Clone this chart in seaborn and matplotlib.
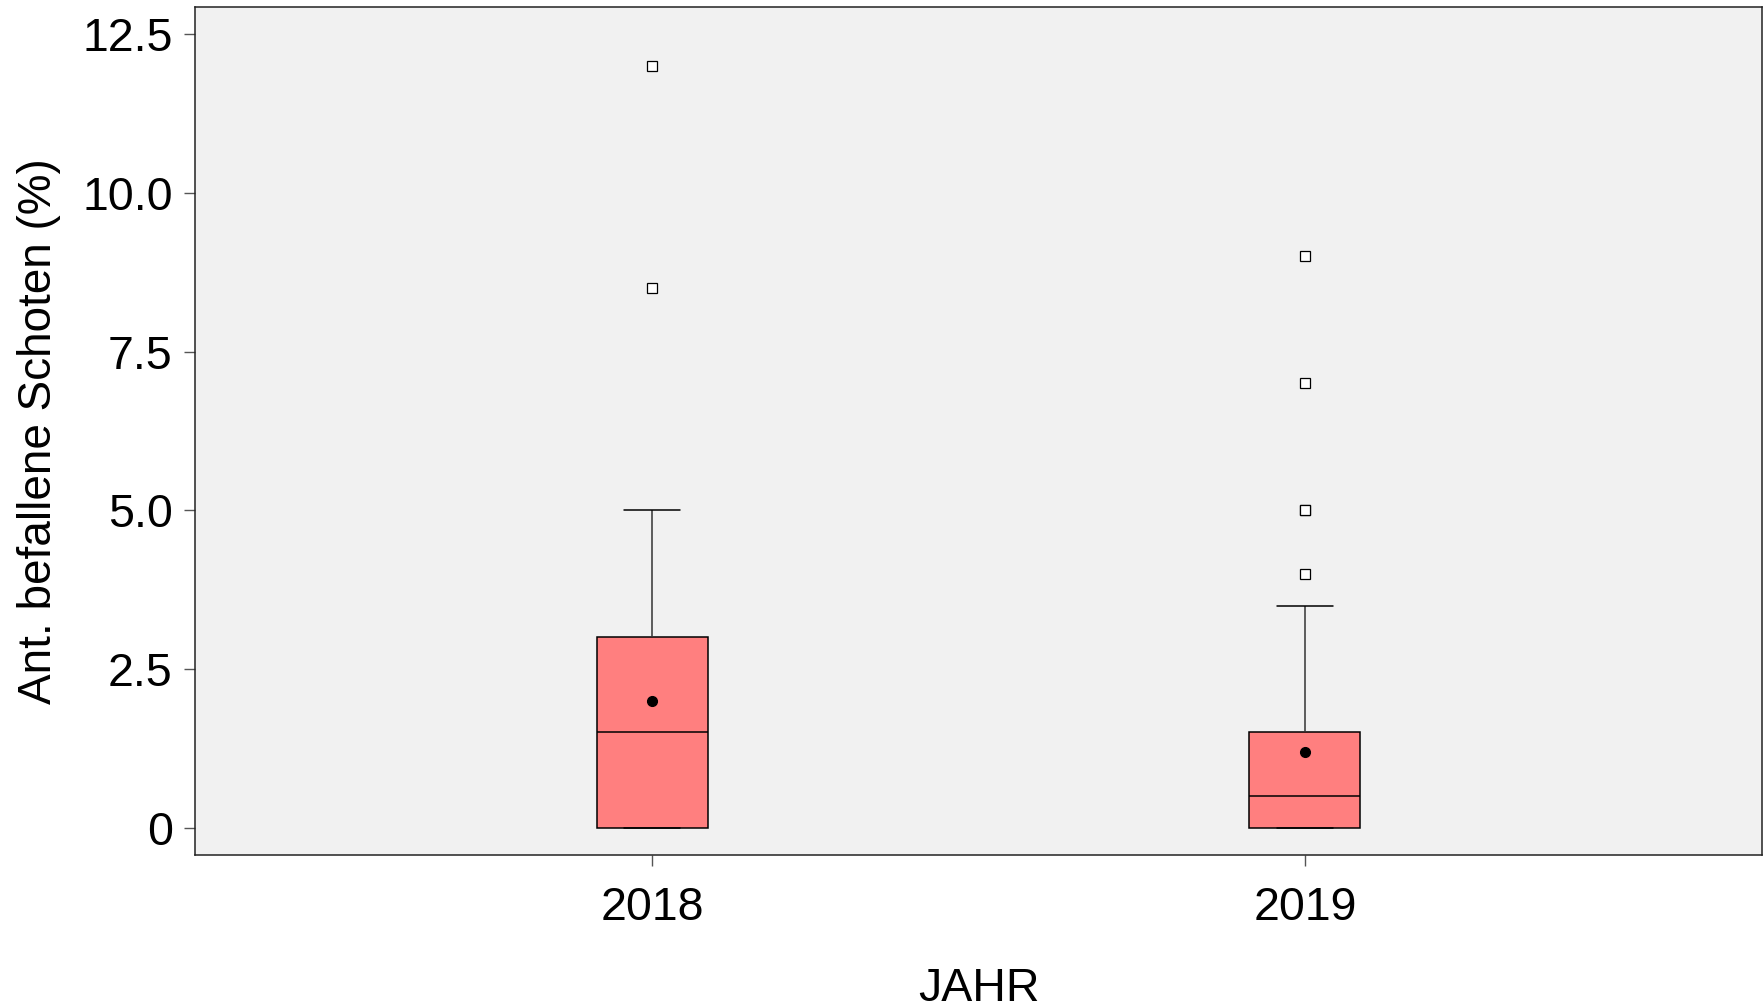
import matplotlib
matplotlib.use("Agg")
import matplotlib.pyplot as plt
import numpy as np
import pandas as pd
import seaborn as sns

# values (percent of infested pods per plot)
years = ["2018", "2019"]
befall_2018 = [0, 0, 0, 0, 0, 0, 0, 0, 0, 0.5, 1, 1, 1.5,
               1.5, 1.5, 1.5, 2, 2, 3, 3, 3, 3, 5, 8.5, 12]
befall_2019 = [0] * 13 + [0] * 7 + [0.5] * 4 + [0.5] \
    + [0.5] * 6 + [1] * 4 + [1.5] + [1.5] \
    + [1.5, 1.5, 2, 2, 2.5, 3, 3.5] + [4, 5, 5, 7, 9]

y_ticks = [0, 2.5, 5.0, 7.5, 10.0, 12.5]
y_tick_labels = ["0", "2.5", "5.0", "7.5", "10.0", "12.5"]

df = pd.DataFrame({
	"JAHR": [years[0]] * len(befall_2018) + [years[1]] * len(befall_2019),
	"befall": befall_2018 + befall_2019,
})

sns.set_style("white")
plt.rcParams["font.family"] = ["Liberation Sans", "DejaVu Sans"]
plt.rcParams["text.color"] = "black"
plt.rcParams["axes.labelcolor"] = "black"
plt.rcParams["xtick.labelcolor"] = "black"
plt.rcParams["ytick.labelcolor"] = "black"

fig = plt.figure(figsize=(17.64, 10.06), dpi=100)
ax = fig.add_axes([195 / 1764, 1 - 855 / 1006, 1567 / 1764, 848 / 1006])
ax.set_facecolor("#F1F1F1")

sns.boxplot(
	data=df, x="JAHR", y="befall", order=years, ax=ax,
	width=0.17, color="#FF7F7F", saturation=1, linewidth=1.1,
	showmeans=True,
	boxprops={"facecolor": "#FF7F7F", "edgecolor": "black"},
	medianprops={"color": "black", "linewidth": 1.1},
	whiskerprops={"color": "#333333", "linewidth": 1.1},
	capprops={"color": "black", "linewidth": 1.1},
	meanprops={"marker": "o", "markerfacecolor": "black", "markeredgecolor": "black", "markersize": 7},
	flierprops={"marker": "s", "markerfacecolor": "white", "markeredgecolor": "black",
				"markersize": 6.5, "markeredgewidth": 0.9},
)

ax.set_xlim(-0.7, 1.7)
ax.set_ylim(-0.43, 12.93)
ax.set_yticks(y_ticks)
ax.set_yticklabels(y_tick_labels)

for side in ["left", "bottom", "top", "right"]:
	ax.spines[side].set_visible(True)
	ax.spines[side].set_color("#222222")
	ax.spines[side].set_linewidth(1.1)

ax.tick_params(axis="both", direction="out", length=8, width=1, color="#555555",
			   labelsize=33.5, left=True, bottom=True, labelcolor="black")
ax.tick_params(axis="y", pad=8)
ax.tick_params(axis="x", pad=14)
# JAHR sits partly below the figure edge, as in the original export
ax.set_xlabel("JAHR", fontsize=33.5, labelpad=27, color="black")
ax.set_ylabel("Ant. befallene Schoten (%)", fontsize=33, labelpad=15, color="black")

fig.savefig("out.png", dpi=100)
